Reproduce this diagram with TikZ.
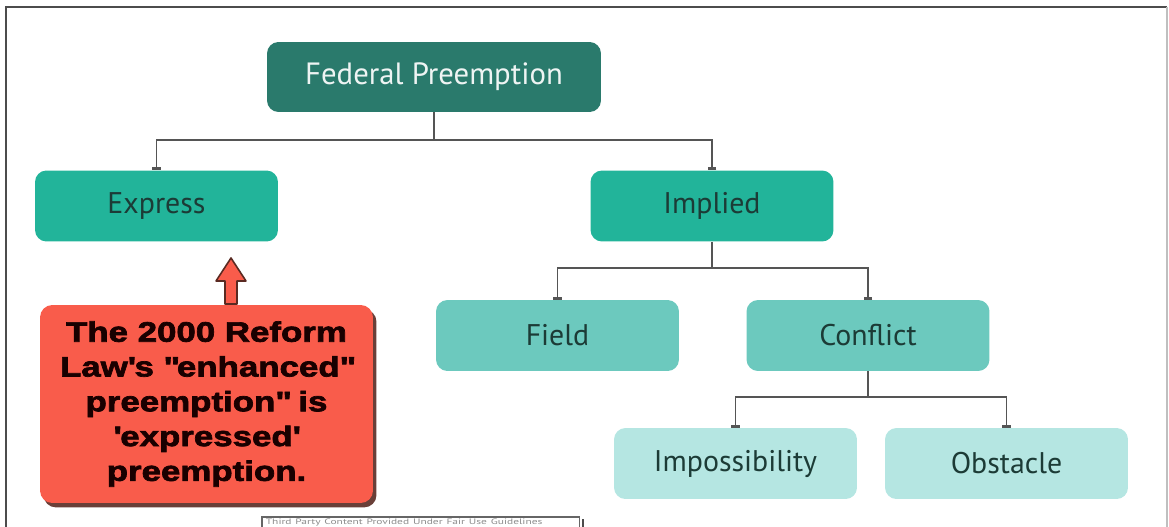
\documentclass[tikz,border=0pt]{standalone}
\usepackage{fontspec}
\setmainfont{PT Sans}
\newfontfamily\notefont[FakeStretch=1.24,FakeBold=2.5]{Liberation Sans}
\usetikzlibrary{arrows.meta,shadows}

\definecolor{fedgreen}{HTML}{2A7A6C}
\definecolor{midgreen}{HTML}{22B49A}
\definecolor{lightgreen}{HTML}{6CC9BE}
\definecolor{palegreen}{HTML}{B5E6E2}
\definecolor{boxtext}{HTML}{1C3B36}
\definecolor{linkgray}{HTML}{555555}
\definecolor{notered}{HTML}{F95C4B}
\definecolor{noteshadow}{HTML}{5A2A22}

\begin{document}
\begin{tikzpicture}[x=0.02cm,y=-0.02cm,
    box/.style={rounded corners=6.5pt, minimum width=4.86cm, minimum height=1.42cm,
        inner sep=0pt, font=\fontsize{17}{20}\selectfont, text=boxtext},
    link/.style={draw=linkgray, line width=1.1pt, -{Bar[width=5pt,line width=1.6pt]}}]

    % Fix the page to the size of the reference
    \useasboundingbox (0,0) rectangle (1169,527);

    % Outer frame of the slide
    \draw[line width=1.1pt, draw=black!70] (6,540) -- (6,7) -- (1167,7);
    \draw[line width=0.8pt, draw=black!25] (1167,7) -- (1167,540);

    % The tree of boxes, one row at a time
    \node[box, fill=fedgreen, text=white!92!fedgreen, minimum width=6.68cm, minimum height=1.4cm,
        font=\fontsize{17.5}{20}\selectfont] (fed) at (434,77) {Federal Preemption};

    \node[box, fill=midgreen] (express) at (156.5,206) {Express};
    \node[box, fill=midgreen] (implied) at (712,206) {Implied};

    \node[box, fill=lightgreen] (field) at (557.5,335.5) {Field};
    \node[box, fill=lightgreen] (conflict) at (868,335.5) {Conflict};

    \node[box, fill=palegreen] (imposs) at (735.5,463.5) {Impossibility};
    \node[box, fill=palegreen] (obstacle) at (1006.5,463.5) {Obstacle};

    % Elbow connectors from each parent to its children
    \draw[link] (fed.south) -- ++(0,28) coordinate (fedfork) -| (express.north);
    \draw[link] (fedfork) -| (implied.north);
    \draw[link] (implied.south) -- ++(0,26) coordinate (impfork) -| (field.north);
    \draw[link] (impfork) -| (conflict.north);
    \draw[link] (conflict.south) -- ++(0,26) coordinate (confork) -| (imposs.north);
    \draw[link] (confork) -| (obstacle.north);

    % The red note with its shadow
    \node[rounded corners=7pt, fill=notered, minimum width=6.66cm, minimum height=3.96cm,
        drop shadow={shadow xshift=2pt, shadow yshift=-2.5pt, fill=noteshadow, opacity=0.9},
        align=center, inner sep=0pt, text=black!90!red,
        font=\notefont\bfseries\fontsize{16}{19.8}\selectfont] (note) at (206.5,404)
        {The 2000 Reform\\Law\textquotesingle s \textquotedbl enhanced\textquotedbl\\
         preemption\textquotedbl{} is\\\textquotesingle expressed\textquotesingle\\preemption.};

    % Block arrow from the note up to Express
    \coordinate (arrbase) at (231,304);
    \filldraw[fill=notered, draw=noteshadow, line width=0.9pt, line join=round]
        (arrbase) ++(-6,0) -- ++(0,-23) -- ++(-9,0) -- (231,258) -- (246,281)
        -- ++(-9,0) -- ++(0,23) -- cycle;

    % Small credit label at the bottom edge, its frame runs off the page
    \node[anchor=north west, text width=6.2cm, align=left, inner xsep=2pt, inner ysep=0.8pt,
        text=black!45, font=\fontsize{4.5}{5}\selectfont] (credit) at (262,517)
        {\scalebox{1.45}[1]{Third Party Content Provided Under Fair Use Guidelines}};
    \fill[black!70] ([xshift=1.2pt,yshift=-1pt]credit.north east) rectangle ++(1.4pt,-20pt);
    \draw[black!60, line width=0.6pt] (credit.south west) ++(0,20) |- (credit.north east)
        -- ++(0,20);

\end{tikzpicture}
\end{document}
